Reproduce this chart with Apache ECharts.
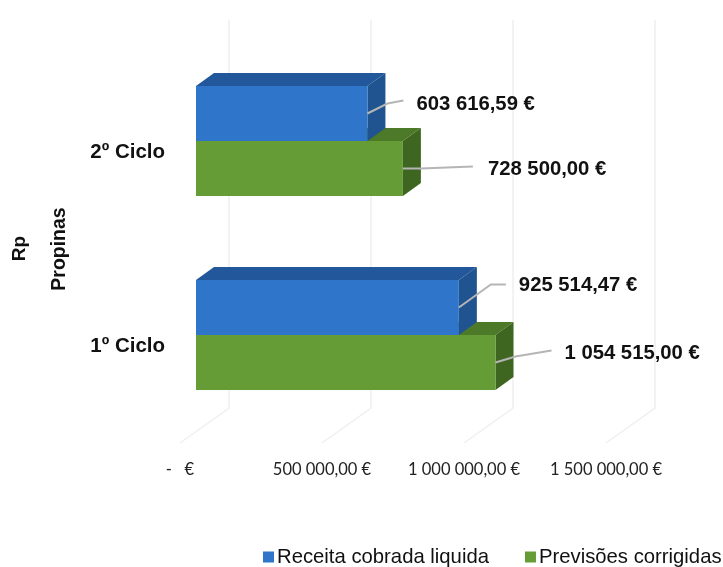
<!DOCTYPE html>
<html>
<head>
<meta charset="utf-8">
<style>
  html, body { margin: 0; padding: 0; background: #fff; }
  #main { width: 723px; height: 567px; }
</style>
<script src="https://cdn.jsdelivr.net/npm/echarts@6/dist/echarts.min.js"></script>
</head>
<body>
<div id="main"></div>
<script>
let categories = ['1º Ciclo', '2º Ciclo'];
let receita = [925514.47, 603616.59];
let previsoes = [1054515.00, 728500.00];
let xTicks = [0, 500000, 1000000, 1500000];
let xTickLabels = ['-   €', '500 000,00 €', '1 000 000,00 €', '1 500 000,00 €'];

// fake 3d: how far the bars and the back wall sit behind the axis plane, in px
let barShift = [16, -11];
let barDepth = [18, -13];
let wallShift = [49, -35];
// leader line bends and label start, relative to the end of each bar
let receitaLeaders = [[[32, -23], [47, -23], [60, -22]], [[20, -10], [36, -13], [49, -9]]];
let previsoesLeaders = [[[20, -6], [56, -12], [69, -9]], [[18, 0], [70, -2], [85, 1]]];

let money = function (v) {
  let parts = v.toFixed(2).split('.');
  return parts[0].replace(/\B(?=(\d{3})+$)/g, ' ') + ',' + parts[1] + ' €';
};

let bar3d = function (offset, colors, leaders) {
  return function (params, api) {
    let i = api.value(1);
    let val = api.value(0);
    let start = api.coord([0, i]);
    let end = api.coord([val, i]);
    let h = api.size([0, 1])[1] * 0.2835;
    let x0 = start[0] + barShift[0];
    let x1 = end[0] + barShift[0];
    let yc = start[1] + barShift[1] + offset * h;
    let y0 = yc - h / 2;
    let y1 = yc + h / 2;
    let dx = barDepth[0];
    let dy = barDepth[1];
    let l = leaders[params.dataIndex];
    return {
      type: 'group',
      children: [
        {
          type: 'polygon',
          shape: {points: [[x0, y0], [x1, y0], [x1 + dx, y0 + dy], [x0 + dx, y0 + dy]]},
          style: {fill: colors.top}
        },
        {
          type: 'polygon',
          shape: {points: [[x1, y0], [x1 + dx, y0 + dy], [x1 + dx, y1 + dy], [x1, y1]]},
          style: {fill: colors.side}
        },
        {
          type: 'rect',
          shape: {x: x0, y: y0, width: x1 - x0, height: h},
          style: {fill: colors.front}
        },
        {
          type: 'polyline',
          shape: {points: [[x1, yc], [x1 + l[0][0], yc + l[0][1]], [x1 + l[1][0], yc + l[1][1]]]},
          style: {stroke: '#b5b5b5', lineWidth: 2, fill: 'none'}
        },
        {
          type: 'text',
          style: {
            x: x1 + l[2][0],
            y: yc + l[2][1],
            text: money(val),
            fill: '#111',
            font: 'bold 20.3px "Liberation Sans"',
            textAlign: 'left',
            textVerticalAlign: 'middle'
          }
        }
      ]
    };
  };
};

let walls = function (params, api) {
  let p = api.coord([api.value(0), 0]);
  let rect = params.coordSys;
  let bottom = rect.y + rect.height;
  return {
    type: 'polyline',
    shape: {
      points: [
        [p[0] + wallShift[0], rect.y + wallShift[1]],
        [p[0] + wallShift[0], bottom + wallShift[1]],
        [p[0], bottom]
      ]
    },
    style: {stroke: '#f0f0f0', lineWidth: 1.5, fill: 'none'}
  };
};

let myChart = echarts.init(document.getElementById('main'), null, {renderer: 'canvas'});
let option = {
  backgroundColor: '#fff',
  animation: false,
  grid: {left: 180, top: 55, width: 426, height: 388},
  xAxis: {
    type: 'value',
    min: 0,
    max: 1500000,
    interval: 500000,
    axisLine: {show: false},
    axisTick: {show: false},
    splitLine: {show: false},
    axisLabel: {
      margin: 18,
      color: '#222',
      fontFamily: 'Lato',
      fontSize: 16.5,
      hideOverlap: false,
      formatter: function (v) {
        return xTickLabels[xTicks.indexOf(v)];
      }
    }
  },
  yAxis: {
    type: 'category',
    data: categories,
    axisLine: {show: false},
    axisTick: {show: false},
    splitLine: {show: false},
    axisLabel: {
      margin: 15,
      color: '#111',
      fontFamily: 'Liberation Sans',
      fontWeight: 'bold',
      fontSize: 20.5
    },
    name: 'Propinas',
    nameLocation: 'middle',
    nameRotate: 90,
    nameGap: 110,
    nameTextStyle: {
      color: '#111',
      fontFamily: 'Liberation Sans',
      fontWeight: 'bold',
      fontSize: 19.5
    }
  },
  legend: {
    data: ['Receita cobrada liquida', 'Previsões corrigidas'],
    left: 263,
    top: 547,
    width: 700,
    padding: 0,
    icon: 'rect',
    itemWidth: 11,
    itemHeight: 11,
    itemGap: 36,
    textStyle: {
      color: '#111',
      fontFamily: 'Liberation Sans',
      fontSize: 20.3,
      padding: [0, 0, 0, -2]
    }
  },
  graphic: [
    {
      type: 'text',
      left: 10,
      top: 236,
      rotation: Math.PI / 2,
      style: {
        text: 'Rp',
        fill: '#111',
        font: 'bold 19px "Liberation Sans"'
      }
    }
  ],
  series: [
    {
      name: 'walls',
      type: 'custom',
      z: 1,
      silent: true,
      clip: false,
      data: xTicks.map(function (v) { return [v]; }),
      encode: {x: 0},
      renderItem: walls
    },
    {
      name: 'Receita cobrada liquida',
      type: 'custom',
      z: 3,
      clip: false,
      itemStyle: {color: '#2f75c9'},
      data: receita.map(function (v, i) { return [v, i]; }),
      encode: {x: 0, y: 1},
      renderItem: bar3d(-0.5, {front: '#2f75c9', top: '#22589b', side: '#1f5490'}, receitaLeaders)
    },
    {
      name: 'Previsões corrigidas',
      type: 'custom',
      z: 2,
      clip: false,
      itemStyle: {color: '#659c35'},
      data: previsoes.map(function (v, i) { return [v, i]; }),
      encode: {x: 0, y: 1},
      renderItem: bar3d(0.5, {front: '#659c35', top: '#4d7a28', side: '#3f6620'}, previsoesLeaders)
    }
  ]
};
myChart.setOption(option);
</script>
</body>
</html>
